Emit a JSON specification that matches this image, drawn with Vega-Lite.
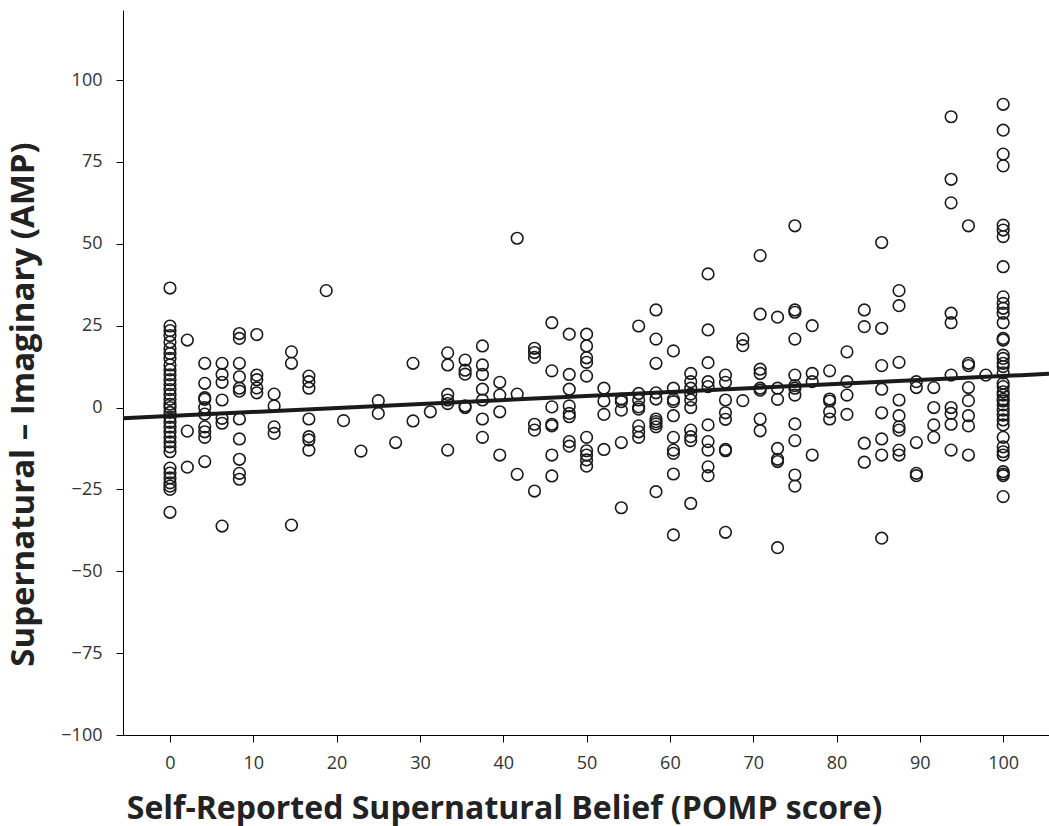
{
  "$schema": "https://vega.github.io/schema/vega-lite/v6.json",
  "width": 926,
  "height": 725,
  "autosize": {"type": "none"},
  "padding": {"left": 123, "top": 10, "right": 0, "bottom": 91},
  "background": "white",
  "config": {
    "view": {"stroke": null},
    "font": "Open Sans",
    "axis": {
      "grid": false,
      "domainColor": "#000000",
      "domainWidth": 1,
      "tickColor": "#000000",
      "tickSize": 7,
      "labelFont": "Open Sans",
      "labelFontSize": 18,
      "labelColor": "#333333",
      "titleFont": "Open Sans",
      "titleFontWeight": "bold",
      "titleColor": "#222222",
      "titleFontSize": 32
    }
  },
  "data": {
    "values": [
      {"x":0,"y":36.5},{"x":0,"y":24.9},{"x":0,"y":23.5},{"x":0,"y":22},{"x":0,"y":20},{"x":0,"y":18},{"x":0,"y":16.5},{"x":0,"y":15},{"x":0,"y":13},{"x":0,"y":11.5},{"x":0,"y":10},{"x":0,"y":8.5},{"x":0,"y":7},{"x":0,"y":5.5},{"x":0,"y":4},{"x":0,"y":2.5},{"x":0,"y":1},{"x":0,"y":0},{"x":0,"y":-1.5},{"x":0,"y":-3},{"x":0,"y":-4.5},{"x":0,"y":-6},{"x":0,"y":-7.5},{"x":0,"y":-9},{"x":0,"y":-10.5},{"x":0,"y":-12},{"x":0,"y":-13.5},{"x":0,"y":-18.5},{"x":0,"y":-20},{"x":0,"y":-21.5},{"x":0,"y":-23},{"x":0,"y":-24},{"x":0,"y":-25},{"x":0,"y":-32},
      {"x":2.08,"y":20.6},{"x":2.08,"y":-7.2},{"x":2.08,"y":-18.2},
      {"x":4.17,"y":13.5},{"x":4.17,"y":7.4},{"x":4.17,"y":3},{"x":4.17,"y":2.5},{"x":4.17,"y":0},{"x":4.17,"y":-2},{"x":4.17,"y":-5.9},{"x":4.17,"y":-7.4},{"x":4.17,"y":-9.1},{"x":4.17,"y":-16.5},
      {"x":6.25,"y":13.5},{"x":6.25,"y":10.1},{"x":6.25,"y":7.7},{"x":6.25,"y":2.3},{"x":6.25,"y":-3.3},{"x":6.25,"y":-4.8},{"x":6.25,"y":-36.2},
      {"x":8.33,"y":22.6},{"x":8.33,"y":21.1},{"x":8.33,"y":13.5},{"x":8.33,"y":9.4},{"x":8.33,"y":5.9},{"x":8.33,"y":5},{"x":8.33,"y":-3.5},{"x":8.33,"y":-9.6},{"x":8.33,"y":-15.8},{"x":8.33,"y":-20.1},{"x":8.33,"y":-21.9},
      {"x":10.42,"y":22.3},{"x":10.42,"y":9.9},{"x":10.42,"y":8.5},{"x":10.42,"y":6},{"x":10.42,"y":4.5},
      {"x":12.5,"y":4.1},{"x":12.5,"y":0.5},{"x":12.5,"y":-5.9},{"x":12.5,"y":-7.9},
      {"x":14.58,"y":17},{"x":14.58,"y":13.5},{"x":14.58,"y":-35.9},
      {"x":16.67,"y":9.6},{"x":16.67,"y":7.9},{"x":16.67,"y":5.9},{"x":16.67,"y":-3.5},{"x":16.67,"y":-8.9},{"x":16.67,"y":-9.9},{"x":16.67,"y":-13},
      {"x":18.75,"y":35.7},
      {"x":20.83,"y":-4},
      {"x":22.92,"y":-13.3},
      {"x":25,"y":2.1},{"x":25,"y":-1.8},
      {"x":27.08,"y":-10.7},
      {"x":29.17,"y":13.5},{"x":29.17,"y":-4.1},
      {"x":31.25,"y":-1.3},
      {"x":33.33,"y":16.7},{"x":33.33,"y":13},{"x":33.33,"y":4},{"x":33.33,"y":2.3},{"x":33.33,"y":1.2},{"x":33.33,"y":-13},
      {"x":35.42,"y":14.5},{"x":35.42,"y":11.4},{"x":35.42,"y":10.2},{"x":35.42,"y":0.5},{"x":35.42,"y":0},
      {"x":37.5,"y":18.8},{"x":37.5,"y":13},{"x":37.5,"y":10.1},{"x":37.5,"y":5.6},{"x":37.5,"y":2.3},{"x":37.5,"y":-3.5},{"x":37.5,"y":-9.1},
      {"x":39.58,"y":7.7},{"x":39.58,"y":3.8},{"x":39.58,"y":-1.3},{"x":39.58,"y":-14.5},
      {"x":41.67,"y":51.7},{"x":41.67,"y":4.1},{"x":41.67,"y":-20.4},
      {"x":43.75,"y":18.1},{"x":43.75,"y":16.8},{"x":43.75,"y":15.3},{"x":43.75,"y":-5.1},{"x":43.75,"y":-6.9},{"x":43.75,"y":-25.5},
      {"x":45.83,"y":25.9},{"x":45.83,"y":11.2},{"x":45.83,"y":0.2},{"x":45.83,"y":-5.1},{"x":45.83,"y":-5.6},{"x":45.83,"y":-14.5},{"x":45.83,"y":-20.9},
      {"x":47.92,"y":22.4},{"x":47.92,"y":10.1},{"x":47.92,"y":5.6},{"x":47.92,"y":0.5},{"x":47.92,"y":-1.8},{"x":47.92,"y":-2.8},{"x":47.92,"y":-10.4},{"x":47.92,"y":-11.8},
      {"x":50,"y":22.4},{"x":50,"y":18.8},{"x":50,"y":15.2},{"x":50,"y":13.8},{"x":50,"y":9.6},{"x":50,"y":-9.1},{"x":50,"y":-13.2},{"x":50,"y":-14.5},{"x":50,"y":-16},{"x":50,"y":-17.9},
      {"x":52.08,"y":5.9},{"x":52.08,"y":2},{"x":52.08,"y":-2.1},{"x":52.08,"y":-12.8},
      {"x":54.17,"y":2.6},{"x":54.17,"y":1.8},{"x":54.17,"y":-0.8},{"x":54.17,"y":-10.7},{"x":54.17,"y":-30.6},
      {"x":56.25,"y":24.9},{"x":56.25,"y":4.3},{"x":56.25,"y":2.3},{"x":56.25,"y":0.2},{"x":56.25,"y":-0.5},{"x":56.25,"y":-5.6},{"x":56.25,"y":-7.4},{"x":56.25,"y":-9.1},
      {"x":58.33,"y":29.8},{"x":58.33,"y":20.9},{"x":58.33,"y":13.5},{"x":58.33,"y":4.5},{"x":58.33,"y":2.6},{"x":58.33,"y":-3.5},{"x":58.33,"y":-4.3},{"x":58.33,"y":-5},{"x":58.33,"y":-5.9},{"x":58.33,"y":-25.7},
      {"x":60.42,"y":17.3},{"x":60.42,"y":5.9},{"x":60.42,"y":2.5},{"x":60.42,"y":1.8},{"x":60.42,"y":-2.5},{"x":60.42,"y":-9.1},{"x":60.42,"y":-13},{"x":60.42,"y":-14},{"x":60.42,"y":-20.3},{"x":60.42,"y":-38.9},
      {"x":62.5,"y":10.4},{"x":62.5,"y":7.9},{"x":62.5,"y":5.9},{"x":62.5,"y":4.1},{"x":62.5,"y":2.3},{"x":62.5,"y":0},{"x":62.5,"y":-6.9},{"x":62.5,"y":-8.9},{"x":62.5,"y":-10.1},{"x":62.5,"y":-29.3},
      {"x":64.58,"y":40.8},{"x":64.58,"y":23.7},{"x":64.58,"y":13.7},{"x":64.58,"y":7.9},{"x":64.58,"y":6.4},{"x":64.58,"y":-5.3},{"x":64.58,"y":-10.4},{"x":64.58,"y":-13},{"x":64.58,"y":-18.1},{"x":64.58,"y":-20.8},
      {"x":66.67,"y":9.9},{"x":66.67,"y":7.7},{"x":66.67,"y":2.3},{"x":66.67,"y":-1.6},{"x":66.67,"y":-3.6},{"x":66.67,"y":-12.8},{"x":66.67,"y":-13.2},{"x":66.67,"y":-38.1},
      {"x":68.75,"y":20.9},{"x":68.75,"y":18.9},{"x":68.75,"y":2.1},
      {"x":70.83,"y":46.4},{"x":70.83,"y":28.5},{"x":70.83,"y":11.7},{"x":70.83,"y":10.4},{"x":70.83,"y":5.9},{"x":70.83,"y":5.3},{"x":70.83,"y":-3.5},{"x":70.83,"y":-7.1},
      {"x":72.92,"y":27.6},{"x":72.92,"y":5.9},{"x":72.92,"y":2.5},{"x":72.92,"y":-12.5},{"x":72.92,"y":-15.8},{"x":72.92,"y":-16.5},{"x":72.92,"y":-42.8},
      {"x":75,"y":55.5},{"x":75,"y":29.8},{"x":75,"y":29.1},{"x":75,"y":20.9},{"x":75,"y":9.9},{"x":75,"y":6.7},{"x":75,"y":5.9},{"x":75,"y":3.8},{"x":75,"y":-5},{"x":75,"y":-10.1},{"x":75,"y":-20.6},{"x":75,"y":-24},
      {"x":77.08,"y":25},{"x":77.08,"y":10.4},{"x":77.08,"y":7.9},{"x":77.08,"y":-14.5},
      {"x":79.17,"y":11.2},{"x":79.17,"y":2.6},{"x":79.17,"y":2},{"x":79.17,"y":-1.3},{"x":79.17,"y":-3.5},
      {"x":81.25,"y":17},{"x":81.25,"y":7.9},{"x":81.25,"y":3.8},{"x":81.25,"y":-2.1},
      {"x":83.33,"y":29.8},{"x":83.33,"y":24.7},{"x":83.33,"y":-10.9},{"x":83.33,"y":-16.7},
      {"x":85.42,"y":50.4},{"x":85.42,"y":24.2},{"x":85.42,"y":12.8},{"x":85.42,"y":5.6},{"x":85.42,"y":-1.6},{"x":85.42,"y":-9.6},{"x":85.42,"y":-14.5},{"x":85.42,"y":-39.9},
      {"x":87.5,"y":35.7},{"x":87.5,"y":31.1},{"x":87.5,"y":13.8},{"x":87.5,"y":2.3},{"x":87.5,"y":-2.5},{"x":87.5,"y":-5.9},{"x":87.5,"y":-6.9},{"x":87.5,"y":-13},{"x":87.5,"y":-14.5},
      {"x":89.58,"y":7.9},{"x":89.58,"y":6.1},{"x":89.58,"y":-10.7},{"x":89.58,"y":-20.1},{"x":89.58,"y":-20.8},
      {"x":91.67,"y":6.1},{"x":91.67,"y":0},{"x":91.67,"y":-5.3},{"x":91.67,"y":-9.1},
      {"x":93.75,"y":88.8},{"x":93.75,"y":69.7},{"x":93.75,"y":62.5},{"x":93.75,"y":28.8},{"x":93.75,"y":25.9},{"x":93.75,"y":9.9},{"x":93.75,"y":0},{"x":93.75,"y":-1.8},{"x":93.75,"y":-5.1},{"x":93.75,"y":-13},
      {"x":95.83,"y":55.5},{"x":95.83,"y":13.5},{"x":95.83,"y":12.8},{"x":95.83,"y":6.1},{"x":95.83,"y":2.1},{"x":95.83,"y":-2.5},{"x":95.83,"y":-5.6},{"x":95.83,"y":-14.5},
      {"x":97.92,"y":9.9},
      {"x":100,"y":92.6},{"x":100,"y":84.7},{"x":100,"y":77.4},{"x":100,"y":73.8},{"x":100,"y":55.7},{"x":100,"y":54.2},{"x":100,"y":52.2},{"x":100,"y":43},{"x":100,"y":33.8},{"x":100,"y":31.8},{"x":100,"y":30.3},{"x":100,"y":28.8},{"x":100,"y":25.9},{"x":100,"y":21.1},{"x":100,"y":20.6},{"x":100,"y":16},{"x":100,"y":15},{"x":100,"y":13.5},{"x":100,"y":12.5},{"x":100,"y":10.6},{"x":100,"y":7.4},{"x":100,"y":6.4},{"x":100,"y":4.8},{"x":100,"y":3.8},{"x":100,"y":2.5},{"x":100,"y":2},{"x":100,"y":0.8},{"x":100,"y":-0.8},{"x":100,"y":-2.3},{"x":100,"y":-3.8},{"x":100,"y":-5.3},{"x":100,"y":-9.1},{"x":100,"y":-12},{"x":100,"y":-13.5},{"x":100,"y":-14.5},{"x":100,"y":-19.6},{"x":100,"y":-20.3},{"x":100,"y":-20.8},{"x":100,"y":-27.2}
    ]
  },
  "encoding": {
    "x": {
      "field": "x",
      "type": "quantitative",
      "scale": {"domain": [-5.64, 105.5], "nice": false, "zero": false},
      "axis": {
        "values": [0, 10, 20, 30, 40, 50, 60, 70, 80, 90, 100],
        "labelPadding": 12,
        "title": "Self-Reported Supernatural Belief (POMP score)",
        "titleX": 381,
        "titleY": 73,
        "titleBaseline": "middle",
        "titleAlign": "center"
      }
    },
    "y": {
      "field": "y",
      "type": "quantitative",
      "scale": {"domain": [-100, 121.4], "nice": false, "zero": false},
      "axis": {
        "values": [-100, -75, -50, -25, 0, 25, 50, 75, 100],
        "labelPadding": 14,
        "title": "Supernatural – Imaginary (AMP)",
        "titleFontSize": 33,
        "titleX": -100,
        "titleY": 394,
        "titleBaseline": "middle",
        "titleAlign": "center",
        "titleAngle": -90
      }
    }
  },
  "layer": [
    {
      "mark": {"type": "point", "shape": "circle", "filled": false, "size": 135, "stroke": "#1a1a1a", "strokeWidth": 1.6, "opacity": 1}
    },
    {
      "transform": [{"regression": "y", "on": "x", "extent": [-5.64, 105.5]}],
      "mark": {"type": "line", "color": "#1a1a1a", "strokeWidth": 4, "clip": true}
    }
  ]
}
